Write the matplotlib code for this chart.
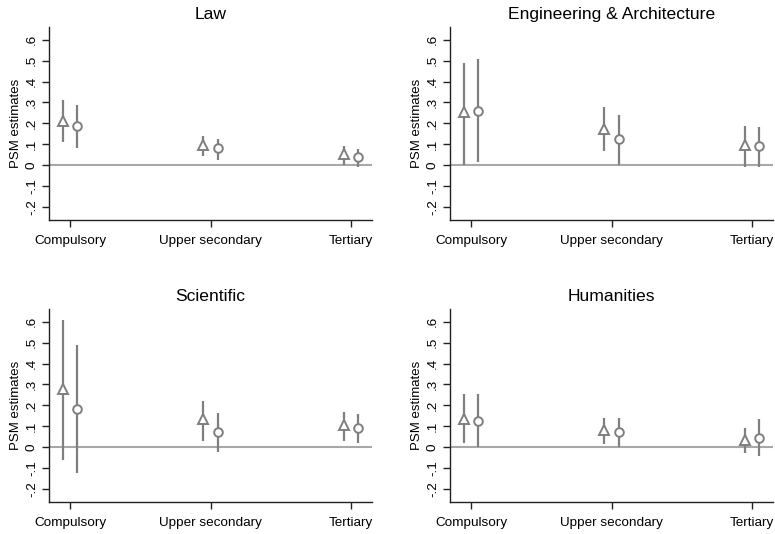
import matplotlib
matplotlib.use("Agg")
import matplotlib.pyplot as plt
import numpy as np

plt.rcParams['font.family'] = ['Liberation Sans', 'DejaVu Sans']

categories = ["Compulsory", "Upper secondary", "Tertiary"]
panels = ["Law", "Engineering & Architecture", "Scientific", "Humanities"]

# triangle series: estimate, lower CI, upper CI
tri_est = {
    "Law": [0.213, 0.097, 0.053],
    "Engineering & Architecture": [0.252, 0.173, 0.095],
    "Scientific": [0.278, 0.132, 0.104],
    "Humanities": [0.135, 0.080, 0.032],
}
tri_lo = {
    "Law": [0.112, 0.042, 0.000],
    "Engineering & Architecture": [0.000, 0.066, -0.010],
    "Scientific": [-0.060, 0.031, 0.029],
    "Humanities": [0.018, 0.016, -0.029],
}
tri_hi = {
    "Law": [0.310, 0.141, 0.090],
    "Engineering & Architecture": [0.491, 0.279, 0.189],
    "Scientific": [0.607, 0.220, 0.167],
    "Humanities": [0.252, 0.140, 0.089],
}
# circle series
cir_est = {
    "Law": [0.186, 0.080, 0.037],
    "Engineering & Architecture": [0.261, 0.124, 0.090],
    "Scientific": [0.184, 0.072, 0.091],
    "Humanities": [0.124, 0.073, 0.045],
}
cir_lo = {
    "Law": [0.082, 0.022, -0.010],
    "Engineering & Architecture": [0.017, 0.000, -0.010],
    "Scientific": [-0.125, -0.023, 0.021],
    "Humanities": [0.000, 0.000, -0.045],
}
cir_hi = {
    "Law": [0.287, 0.125, 0.079],
    "Engineering & Architecture": [0.507, 0.242, 0.183],
    "Scientific": [0.489, 0.164, 0.159],
    "Humanities": [0.252, 0.137, 0.134],
}

yticks = [-0.2, -0.1, 0, 0.1, 0.2, 0.3, 0.4, 0.5, 0.6]
ytick_labels = ["-.2", "-.1", "0", ".1", ".2", ".3", ".4", ".5", ".6"]

W, H = 775, 534
fig = plt.figure(figsize=(W / 100, H / 100), dpi=100)

boxes = [
    (49, 27, 372, 220),
    (450, 27, 773, 220),
    (49, 309, 372, 502),
    (450, 309, 773, 502),
]

line_col = "#7f7f7f"
zero_col = "#a8a8a8"
x = np.arange(1, len(categories) + 1)
off = 0.05

for name, (l, t, r, b) in zip(panels, boxes):
    ax = fig.add_axes([l / W, 1 - b / H, (r - l) / W, (b - t) / H])
    ax.axhline(0, color=zero_col, lw=1.5, zorder=1)
    te = np.array(tri_est[name]); tl = np.array(tri_lo[name]); th = np.array(tri_hi[name])
    ce = np.array(cir_est[name]); cl = np.array(cir_lo[name]); ch = np.array(cir_hi[name])
    ax.vlines(x - off, tl, th, color=line_col, lw=1.6, zorder=2)
    ax.vlines(x + off, cl, ch, color=line_col, lw=1.6, zorder=2)
    ax.plot(x - off, te, ls="none", marker="^", ms=6.8, mfc="white", mec=line_col, mew=1.4, zorder=3)
    ax.plot(x + off, ce, ls="none", marker="o", ms=6.2, mfc="white", mec=line_col, mew=1.4, zorder=3)
    ax.set_xlim(0.85, 3.15)
    ax.set_ylim(-0.263, 0.661)
    ax.set_xticks(x)
    ax.set_xticklabels(categories, fontsize=9.7)
    ax.set_yticks(yticks)
    ax.set_yticklabels(ytick_labels, fontsize=9.7, rotation=90, va="center")
    ax.tick_params(axis="both", direction="out", length=5, width=1, color="#222222", pad=3)
    ax.tick_params(axis="x", pad=6)
    ax.spines["top"].set_visible(False)
    ax.spines["right"].set_visible(False)
    for s in ("left", "bottom"):
        ax.spines[s].set_linewidth(1)
        ax.spines[s].set_color("#222222")
    ax.set_ylabel("PSM estimates", fontsize=9.5, labelpad=3)
    ax.set_title(name, fontsize=12.6, pad=6)

fig.savefig("out.png", dpi=100)
